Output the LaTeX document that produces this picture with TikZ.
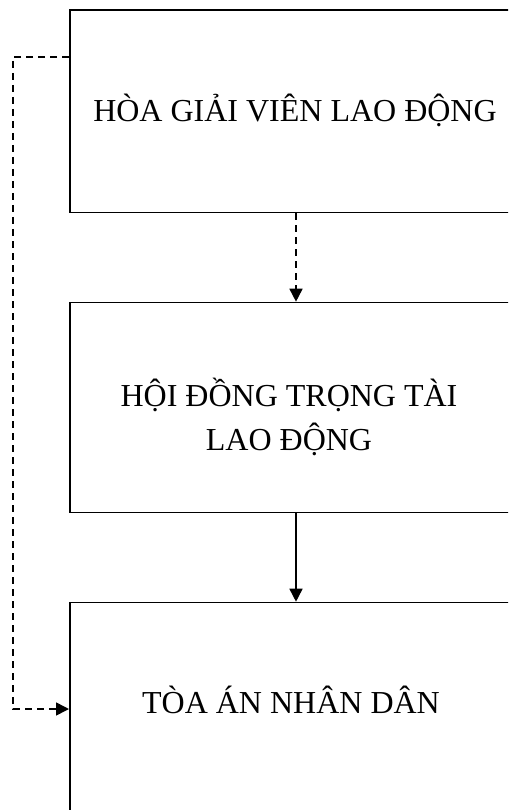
\documentclass[tikz,border=0pt]{standalone}
\usepackage{fontspec}
\setmainfont{Liberation Serif}
\usetikzlibrary{arrows.meta}
\begin{document}
\begin{tikzpicture}[x=1pt,y=-1pt,
  box/.style={draw=black,line width=1.7pt,rectangle,anchor=north west,inner sep=0pt},
  lbl/.style={anchor=base,inner sep=0pt,font=\fontsize{32}{43.3}\selectfont},
  conn/.style={line width=1.6pt,-{Triangle[length=13pt,width=13pt]}},
  dashconn/.style={conn,dash pattern=on 7pt off 5pt}]
\useasboundingbox (0,0) rectangle (508,810);
\clip (0,0) rectangle (508,810);
\node[box,minimum width=443pt,minimum height=202.2pt] (b1) at (69,9.5) {};
\node[box,minimum width=443pt,minimum height=210pt] (b2) at (69,301.7) {};
\node[box,minimum width=443pt,minimum height=240pt] (b3) at (69,601.7) {};
\node[lbl] (t1) at (295,122) {HÒA GIẢI VIÊN LAO ĐỘNG};
\node[lbl] (t2a) at (289,406.7) {HỘI ĐỒNG TRỌNG TÀI};
\node[lbl] (t2b) at (289,450) {LAO ĐỘNG};
\node[lbl] (t3) at (291,713) {TÒA ÁN NHÂN DÂN};
\coordinate (s1) at (69,57);
\coordinate (e3) at (69,709);
\draw[dashconn] (b1.south west -| 296,0) -- (b2.north west -| 296,0);
\draw[conn] (b2.south west -| 296,0) -- (b3.north west -| 296,0);
\draw[dashconn] (s1) -- (13,57) -- (13,709) -- (e3);
\end{tikzpicture}
\end{document}
